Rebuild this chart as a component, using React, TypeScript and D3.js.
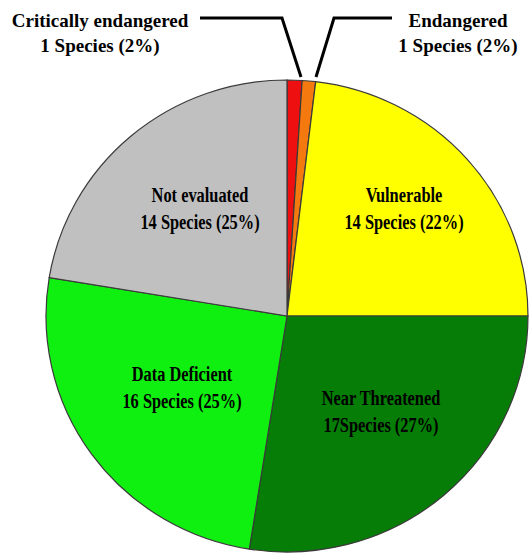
import React, { useEffect, useRef } from "react";
import * as d3 from "d3";

// categories, counts and shares (share of circle, in %)
const categories = ["Critically endangered", "Endangered", "Vulnerable", "Near Threatened", "Data Deficient", "Not evaluated"];
const speciesCounts = [1, 1, 14, 17, 16, 14];
const labelPercents = [2, 2, 22, 27, 25, 25];
const sliceShares = [1.0, 0.9, 23.1, 27.5, 25.1, 22.4];
const sliceColors = ["#ee1010", "#f47a10", "#ffff00", "#067d06", "#10f010", "#c0c0c0"];

const W = 530;
const H = 553;
const cx = 287;
const cy = 316;
const rx = 241;
const ry = 236;

// inside label anchors (center of the two lines)
const insideLabels: { [k: string]: [number, number] } = {
  "Not evaluated": [200, 202],
  "Vulnerable": [404, 202],
  "Data Deficient": [182, 381],
  "Near Threatened": [381, 405],
};

export default function App() {
  const ref = useRef<SVGSVGElement>(null);

  useEffect(() => {
    const svg = d3.select(ref.current);
    svg.selectAll("*").remove();

    const data = categories.map((c, i) => ({
      name: c,
      count: speciesCounts[i],
      pct: labelPercents[i],
      share: sliceShares[i],
      color: sliceColors[i],
    }));

    const pie = d3.pie<any>().sort(null).value(d => d.share).startAngle(0).endAngle(2 * Math.PI);
    const arc = d3.arc<any>().innerRadius(0).outerRadius(rx);

    const g = svg.append("g").attr("transform", `translate(${cx},${cy}) scale(1,${ry / rx})`);
    g.selectAll("path").data(pie(data)).join("path")
      .attr("d", arc)
      .attr("fill", d => d.data.color)
      .attr("stroke", "#3a3a3a")
      .attr("stroke-width", 1.2);

    // inside labels (condensed bold serif)
    const labels = svg.append("g")
      .attr("font-family", "'Liberation Serif', 'Times New Roman', serif")
      .attr("font-weight", "bold")
      .attr("font-size", 21)
      .attr("fill", "#000");
    data.forEach(d => {
      const pos = insideLabels[d.name];
      if (!pos) return;
      const t = labels.append("g").attr("transform", `translate(${pos[0]},${pos[1]}) scale(0.78,1)`);
      t.append("text").attr("text-anchor", "middle").attr("y", 0).text(d.name);
      const sep = d.name === "Near Threatened" ? "" : " ";
      t.append("text").attr("text-anchor", "middle").attr("y", 27)
        .text(`${d.count}${sep}Species (${d.pct}%)`);
    });

    // outside labels with leader lines
    const top = svg.append("g")
      .attr("font-family", "'Liberation Serif', 'Times New Roman', serif")
      .attr("font-weight", "bold")
      .attr("font-size", 19)
      .attr("fill", "#000");
    const outside = [
      { d: data[0], x: 100, line: [[200, 18], [282, 18], [301, 77]] },
      { d: data[1], x: 458, line: [[392, 18], [334, 18], [316, 77]] },
    ];
    outside.forEach(o => {
      top.append("text").attr("x", o.x).attr("y", 27).attr("text-anchor", "middle").text(o.d.name);
      top.append("text").attr("x", o.x).attr("y", 52).attr("text-anchor", "middle")
        .text(`${o.d.count} Species (${o.d.pct}%)`);
      svg.append("path")
        .attr("d", d3.line()(o.line as [number, number][]))
        .attr("fill", "none")
        .attr("stroke", "#000")
        .attr("stroke-width", 3);
    });
  }, []);

  return (
    <svg ref={ref} width={W} height={H} style={{ position: "absolute", left: 0, top: 0, background: "#fff" }} />
  );
}
